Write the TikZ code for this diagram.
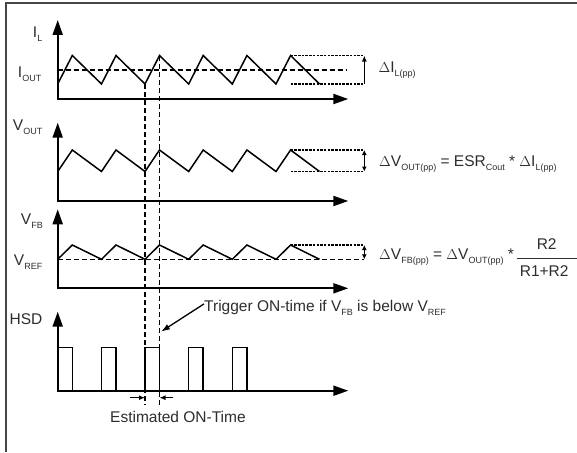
\documentclass[tikz,border=0pt]{standalone}
\usepackage{fontspec}
\setmainfont{Liberation Sans}
\usepackage{tikz}
\usetikzlibrary{arrows.meta}
\newcommand{\lowsub}[1]{\raisebox{-4pt}{\fontsize{9}{10}\selectfont #1}}
\definecolor{ink}{RGB}{0,0,0}
\definecolor{textInk}{RGB}{45,45,45}
\definecolor{frameLine}{RGB}{70,70,70}
\tikzset{
  frameEdge/.style={draw=frameLine, line width=1.5pt},
  axisLine/.style={draw=ink, line width=2pt, {Triangle[length=15pt,width=10pt]}-{Triangle[length=15pt,width=10pt]}},
  wave/.style={draw=ink, line width=1.5pt},
  refLine/.style={draw=ink, line width=1.3pt, dash pattern=on 5pt off 3pt},
  envLine/.style={draw=ink, line width=1.2pt, dash pattern=on 2.5pt off 1.2pt},
  spanUp/.style={draw=ink, line width=1.3pt, -{Latex[length=6pt,width=5pt]}},
  spanBoth/.style={draw=ink, line width=1.3pt, {Latex[length=5pt,width=5pt]}-{Latex[length=5pt,width=5pt]}},
  pointer/.style={draw=ink, line width=1.3pt, -{Latex[length=9pt,width=6pt]}},
  tick/.style={draw=ink, line width=1.3pt, -{Latex[length=6pt,width=5pt]}},
  sigLabel/.style={text=textInk, font=\fontsize{15.5}{18}\selectfont, inner sep=0pt, anchor=base east},
  eqLabel/.style={text=textInk, font=\fontsize{15.5}{18}\selectfont, inner sep=0pt, anchor=base west},
  fracBar/.style={draw=textInk, line width=1.3pt}
}
\begin{document}
\begin{tikzpicture}[x=1pt, y=-1pt]
  \useasboundingbox (0,0) rectangle (577,452);
  \draw[frameEdge] (577,3) -- (6,3) -- (6,452);

  \coordinate (ilTop) at (57.7,20);
  \coordinate (ilOrigin) at (57.7,99);
  \coordinate (ilEnd) at (348.3,99);
  \coordinate (voutTop) at (57.7,122.7);
  \coordinate (voutOrigin) at (57.7,201);
  \coordinate (voutEnd) at (348.3,201);
  \coordinate (vfbTop) at (57.7,209.3);
  \coordinate (vfbOrigin) at (57.7,288.3);
  \coordinate (vfbEnd) at (348.3,288.3);
  \coordinate (hsdTop) at (57.7,311.7);
  \coordinate (hsdOrigin) at (57.7,390.7);
  \coordinate (hsdEnd) at (348.3,390.7);

  \draw[axisLine] (ilTop) -- (ilOrigin) -- (ilEnd);
  \draw[axisLine] (voutTop) -- (voutOrigin) -- (voutEnd);
  \draw[axisLine] (vfbTop) -- (vfbOrigin) -- (vfbEnd);
  \draw[axisLine] (hsdTop) -- (hsdOrigin) -- (hsdEnd);

  \node[sigLabel] (ilLabel) at (42.5,37.5) {I\lowsub{L}};
  \node[sigLabel] (ioutLabel) at (41.5,77.5) {I\lowsub{OUT}};
  \node[sigLabel] (voutLabel) at (42.5,130) {V\lowsub{OUT}};
  \node[sigLabel] (vfbLabel) at (43,224.5) {V\lowsub{FB}};
  \node[sigLabel] (vrefLabel) at (42.5,265.5) {V\lowsub{REF}};
  \node[sigLabel] (hsdLabel) at (42.5,324) {HSD};

  \draw[refLine] (57.7,70) -- (347,70);
  \draw[wave] (57.7,84) -- (72.3,55.5) -- (101.5,84) -- (116,55.5) -- (145,84) -- (159.5,55.5) -- (188.7,84)
    -- (203.2,55.5) -- (232.3,84) -- (246.9,55.5) -- (276,84) -- (290.6,55.5) -- (319.5,84);
  \draw[wave] (57.7,171.5) -- (72.3,150) -- (101.5,171.5) -- (116,150) -- (145,171.5) -- (159.5,150) -- (188.7,171.5)
    -- (203.2,150) -- (232.3,171.5) -- (246.9,150) -- (276,171.5) -- (290.6,150) -- (319.5,171.5);
  \draw[refLine] (57.7,259.3) -- (364.3,259.3);
  \draw[wave] (57.7,259.3) -- (72.3,245) -- (101.5,259.3) -- (116,245) -- (145,259.3) -- (159.5,245) -- (188.7,259.3)
    -- (203.2,245) -- (232.3,259.3) -- (246.9,245) -- (276,259.3) -- (290.6,245) -- (319.5,259.3);

  \draw[wave] (57.7,390.7) -- (57.7,347.3) -- (72.3,347.3) -- (72.3,390.7);
  \draw[wave] (101.5,390.7) -- (101.5,347.3) -- (116,347.3) -- (116,390.7);
  \draw[wave] (145,390.7) -- (145,347.3) -- (159.5,347.3) -- (159.5,390.7);
  \draw[wave] (188.7,390.7) -- (188.7,347.3) -- (203.2,347.3) -- (203.2,390.7);
  \draw[wave] (232.3,390.7) -- (232.3,347.3) -- (246.9,347.3) -- (246.9,390.7);

  \coordinate (ilHi) at (364.3,55.5);
  \coordinate (ilLo) at (364.3,84);
  \coordinate (voutHi) at (364.3,150);
  \coordinate (voutLo) at (364.3,171.5);
  \coordinate (vfbHi) at (364.3,245);
  \coordinate (vfbLo) at (364.3,259.3);
  \draw[envLine] (290.6,55.5) -- (ilHi);
  \draw[envLine] (290.6,84) -- (ilLo);
  \draw[envLine] (290.6,150) -- (voutHi);
  \draw[envLine] (290.6,171.5) -- (voutLo);
  \draw[envLine] (290.6,245) -- (vfbHi);
  \draw[spanUp] (ilLo) -- (ilHi);
  \draw[spanBoth] (voutLo) -- (voutHi);
  \draw[spanBoth] (vfbLo) -- (vfbHi);

  \node[eqLabel] (dIlEq) at (378.3,72.7) {$\Delta$I\lowsub{L(pp)}};
  \node[eqLabel] (dVoutEq) at (379,166.7) {$\Delta$V\lowsub{OUT(pp)} = ESR\lowsub{Cout} * $\Delta$I\lowsub{L(pp)}};
  \node[eqLabel] (dVfbEq) at (379,259.3) {$\Delta$V\lowsub{FB(pp)} = $\Delta$V\lowsub{OUT(pp)} *};
  \node[eqLabel, anchor=base] (fracTop) at (546.7,249.3) {R2};
  \node[eqLabel, anchor=base] (fracBot) at (544.2,276.7) {R1+R2};
  \draw[fracBar] (516.7,258.3) -- (577,258.3);

  \coordinate (guideATop) at (145,84);
  \coordinate (guideABot) at (145,405);
  \coordinate (guideBTop) at (159.5,55.5);
  \coordinate (guideBBot) at (159.5,405);
  \draw[refLine] (guideATop) -- (guideABot);
  \draw[refLine] (guideBTop) -- (guideBBot);

  \coordinate (onLeft) at (130,397.7);
  \coordinate (onRight) at (173.3,397.7);
  \draw[tick] (onLeft) -- (145,397.7);
  \draw[tick] (onRight) -- (159.5,397.7);
  \node[eqLabel] (onTimeNote) at (110,422.7) {Estimated ON-Time};

  \node[eqLabel] (triggerNote) at (204,311.5) {Trigger ON-time if V\lowsub{FB} is below V\lowsub{REF}};
  \coordinate (trigTip) at (161,331.7);
  \draw[pointer] ([yshift=4pt]triggerNote.west) -- (trigTip);
\end{tikzpicture}
\end{document}
